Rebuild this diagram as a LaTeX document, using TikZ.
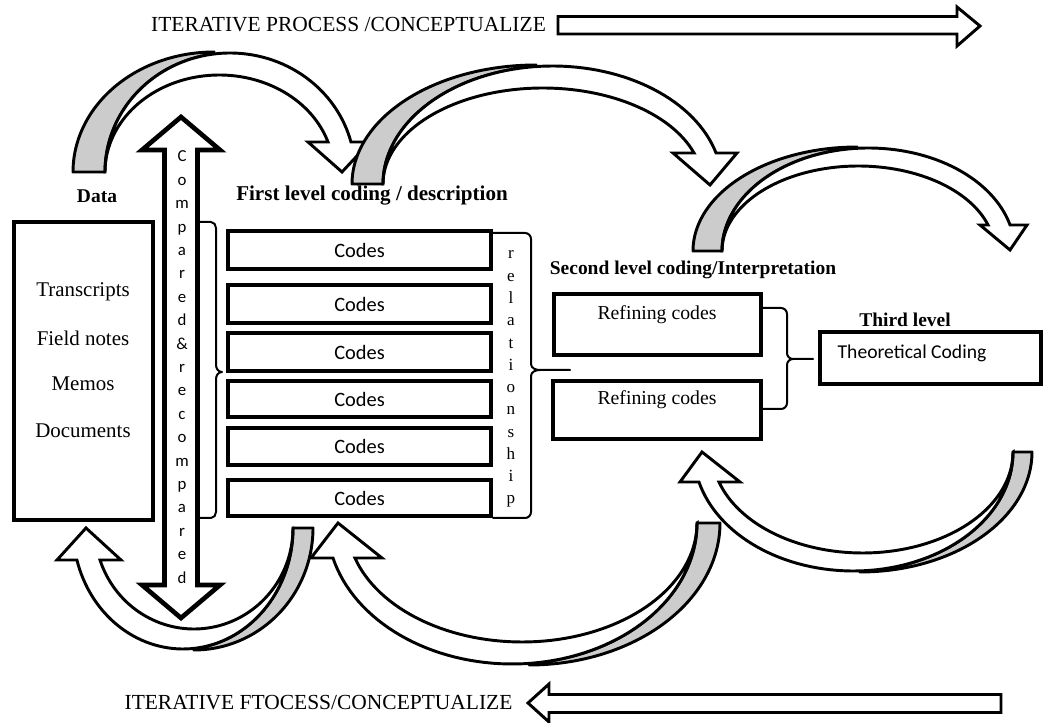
\documentclass[tikz,border=0pt]{standalone}
\usepackage{fontspec}
\setmainfont{Liberation Serif}
\newfontfamily\calib{Carlito}
\definecolor{undersidegray}{RGB}{204,204,204}
\tikzset{
  every node/.style={inner sep=0pt, outer sep=0pt},
  listtext/.style={font=\fontsize{15.7}{18}\selectfont},
  bandtext/.style={font=\fontsize{16.1}{18}\selectfont},
  heading/.style={font=\fontsize{14.6}{17}\selectfont\bfseries},
  sanstext/.style={font=\calib\fontsize{15.3}{18}\selectfont},
  thickbox/.style={draw, line width=3pt, fill=white},
  bracket/.style={draw, line width=1.5pt, line join=round, line cap=round},
  blockarrow/.style={draw, line width=2.2pt, fill=white, line join=miter},
  backface/.style={draw, line width=2.2pt, fill=undersidegray, line join=round},
  frontface/.style={draw, line width=2.2pt, fill=white, line join=miter},
  vletter/.style={font=\calib\fontsize{12.6}{14}\selectfont, anchor=base},
  rletter/.style={font=\fontsize{12.8}{14}\selectfont, anchor=base},
}
\begin{document}
\begin{tikzpicture}[x=0.75pt, y=-0.75pt, samples=70]
\useasboundingbox (0,0) rectangle (1050,723);

% ---------- headline arrows ----------
\node[bandtext] (toptext) at (348.5,25) {ITERATIVE PROCESS /CONCEPTUALIZE};
\draw[blockarrow] (558,16.5) -- (957,16.5) -- (957,7) -- (980,26) -- (957,46) -- (957,34) -- (558,34) -- cycle;

\node[bandtext] (bottomtext) at (318.5,703) {ITERATIVE FTOCESS/CONCEPTUALIZE};
\draw[blockarrow] (528,703) -- (549,684) -- (549,694.5) -- (1001,694.5) -- (1001,712.5) -- (549,712.5) -- (549,722) -- cycle;

% ---------- curved arrows over the top ----------
% first hop: data -> first level
\filldraw[backface] plot[domain=180:270] ({214+141*cos(\x)},{172+120*sin(\x)})
  -- plot[domain=262.65:180] ({230+125*cos(\x)},{172+119*sin(\x)}) -- cycle;
\filldraw[frontface] plot[domain=180:345.4] ({230+125*cos(\x)},{172+119*sin(\x)})
  -- (370,142) -- (342,172) -- (308,142)
  -- plot[domain=341.98:180] ({219.3+114.3*cos(\x)},{172+97*sin(\x)}) -- cycle;

% second hop: first level -> second level
\filldraw[backface] plot[domain=180:270] ({536+184*cos(\x)},{184+119*sin(\x)})
  -- plot[domain=264.4:180] ({552.5+169.5*cos(\x)},{184+118*sin(\x)}) -- cycle;
\filldraw[frontface] plot[domain=180:344.77] ({552.5+169.5*cos(\x)},{184+118*sin(\x)})
  -- (737,153) -- (710,185) -- (673,153)
  -- plot[domain=341.16:180] ({542.8+159.8*cos(\x)},{184+96*sin(\x)}) -- cycle;

% third hop: second level -> third level
\filldraw[backface] plot[domain=180:270] ({857+164*cos(\x)},{251+104*sin(\x)})
  -- plot[domain=265.5:180] ({868.4+146.4*cos(\x)},{251+103*sin(\x)}) -- cycle;
\filldraw[frontface] plot[domain=180:345.38] ({868.4+146.4*cos(\x)},{251+103*sin(\x)})
  -- (1027,225) -- (1010,250) -- (980,225)
  -- plot[domain=342.19:180] ({858.3+136.3*cos(\x)},{251+85*sin(\x)}) -- cycle;

% ---------- curved arrows underneath ----------
% back to the data
\filldraw[backface] plot[domain=0:90] ({194+119*cos(\x)},{528+122*sin(\x)})
  -- plot[domain=84.26:0] ({183+110*cos(\x)},{528+121*sin(\x)}) -- cycle;
\filldraw[frontface] plot[domain=0:164.67] ({183+110*cos(\x)},{528+121*sin(\x)})
  -- (57,560) -- (86,528) -- (121,560)
  -- plot[domain=161.53:0] ({193.95+99.05*cos(\x)},{528+101*sin(\x)}) -- cycle;

% back to the first level codes
\filldraw[backface] plot[domain=0:90] ({529+191*cos(\x)},{523+142*sin(\x)})
  -- plot[domain=84.76:0] ({512.1+184.9*cos(\x)},{523+141*sin(\x)}) -- cycle;
\filldraw[frontface] plot[domain=0:165.63] ({512.1+184.9*cos(\x)},{523+141*sin(\x)})
  -- (311,558) -- (338,523) -- (382,558)
  -- plot[domain=162.90:0] ({522.1+174.9*cos(\x)},{523+119*sin(\x)}) -- cycle;

% back to the refining codes
\filldraw[backface] plot[domain=0:90] ({860+172*cos(\x)},{452+120*sin(\x)})
  -- plot[domain=87.63:0] ({853.4+159.6*cos(\x)},{452+119*sin(\x)}) -- cycle;
\filldraw[frontface] plot[domain=0:165.4] ({853.4+159.6*cos(\x)},{452+119*sin(\x)})
  -- (680,482) -- (702,452) -- (740,482)
  -- plot[domain=162.72:0] ({862.6+150.4*cos(\x)},{452+101*sin(\x)}) -- cycle;

% ---------- data ----------
\node[heading] (datahead) at (97,196) {Data};
\node[thickbox, minimum width=104.25pt, minimum height=223.5pt] (data) at (83.5,371) {};
\node[listtext] (d1) at (83,292) {Transcripts};
\node[listtext] (d2) at (83,338) {Field notes};
\node[listtext] (d3) at (83,384) {Memos};
\node[listtext] (d4) at (83,431) {Documents};

% ---------- compared & recompared double arrow ----------
\draw[blockarrow, line width=3.5pt] (181,117) -- (220,150) -- (197.5,150) -- (197.5,585) -- (220,585)
  -- (181,618) -- (142,585) -- (164.5,585) -- (164.5,150) -- (142,150) -- cycle;
\foreach \ch [count=\i from 0] in {C,o,m,p,a,r,e,d,\&,r,e,c,o,m,p,a,r,e,d}
  \node[vletter] (cmp\i) at (182,{162+\i*23.39}) {\ch};

% ---------- first level coding ----------
\node[heading, font=\fontsize{15.8}{18}\selectfont\bfseries] (firsthead) at (372,196) {First level coding / description};
\draw[bracket] (199,222) -- (211,222) to[out=0,in=90] (216,228) -- (216,365)
  to[out=270,in=180] (222,372) to[out=180,in=90] (216,379) -- (216,512)
  to[out=270,in=0] (211,518) -- (199,518);
\node[thickbox, sanstext, minimum width=197.25pt, minimum height=28.5pt] (c1) at (359.5,250) {Codes};
\node[thickbox, sanstext, minimum width=197.25pt, minimum height=28.5pt] (c2) at (359.5,304.5) {Codes};
\node[thickbox, sanstext, minimum width=197.25pt, minimum height=28.5pt] (c3) at (359.5,352) {Codes};
\node[thickbox, sanstext, minimum width=197.25pt, minimum height=27.5pt] (c4) at (359.5,399) {Codes};
\node[thickbox, sanstext, minimum width=197.25pt, minimum height=27.5pt] (c5) at (359.5,446.5) {Codes};
\node[thickbox, sanstext, minimum width=197.25pt, minimum height=27.5pt] (c6) at (359.5,498) {Codes};

% relationship bracket
\draw[bracket] (493,233) -- (525,233) to[out=0,in=90] (531,239) -- (531,364)
  to[out=270,in=180] (540,370) -- (570,370);
\draw[bracket] (540,370) to[out=180,in=90] (531,376) -- (531,512)
  to[out=270,in=0] (525,518) -- (493,518);
\foreach \ch [count=\i from 0] in {r,e,l,a,t,i,o,n,s,h,i,p}
  \node[rletter] (rel\i) at (511,{259+\i*22.27}) {\ch};

% ---------- second level coding ----------
\node[heading] (secondhead) at (693,270) {Second level coding/Interpretation};
\node[thickbox, minimum width=155.25pt, minimum height=45.75pt] (r1) at (657.5,324.5) {};
\node[listtext, font=\fontsize{14.8}{17}\selectfont] (r1t) at (657,315) {Refining codes};
\node[thickbox, minimum width=156pt, minimum height=43.5pt] (r2) at (657,410) {};
\node[listtext, font=\fontsize{14.8}{17}\selectfont] (r2t) at (657,400) {Refining codes};
\draw[bracket] (763,308) -- (781,308) to[out=0,in=90] (787,314) -- (787,353)
  to[out=270,in=180] (793,359) -- (813,359);
\draw[bracket] (793,359) to[out=180,in=90] (787,365) -- (787,403)
  to[out=270,in=0] (781,409) -- (763,409);

% ---------- third level ----------
\node[heading] (thirdhead) at (905,320) {Third level};
\node[thickbox, minimum width=165.75pt, minimum height=39pt] (theory) at (930.5,358) {};
\node[sanstext, font=\calib\fontsize{14.7}{17}\selectfont] (theoryt) at (912,353) {Theoretical Coding};
\end{tikzpicture}
\end{document}
